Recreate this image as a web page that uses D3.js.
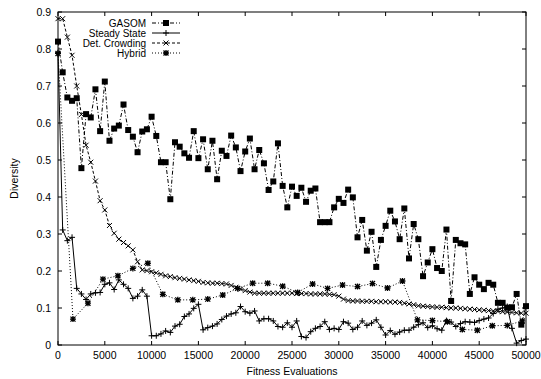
<!DOCTYPE html>
<html>
<head>
<meta charset="utf-8">
<script src="https://cdn.jsdelivr.net/npm/d3@7"></script>
<style>
  body { margin: 0; background: #fff; }
  svg { display: block; }
  text { font-family: "Liberation Sans", Arial, Helvetica, sans-serif; font-size: 10.5px; fill: #000; }
  .legend text { font-size: 10px; }
</style>
</head>
<body>
<svg id="chart" width="541" height="379"></svg>
<script>
// evaluation step between samples
const stepMain = 500;
const stepHybrid = 1600;

const gasom = [0.820, 0.737, 0.669, 0.660, 0.667, 0.478, 0.624, 0.615, 0.691, 0.578,
  0.712, 0.552, 0.585, 0.593, 0.650, 0.581, 0.563, 0.521, 0.577, 0.583,
  0.617, 0.565, 0.494, 0.494, 0.394, 0.548, 0.536, 0.518, 0.506, 0.578,
  0.505, 0.556, 0.475, 0.552, 0.448, 0.525, 0.511, 0.566, 0.534, 0.470,
  0.523, 0.558, 0.475, 0.527, 0.491, 0.419, 0.442, 0.545, 0.430, 0.372,
  0.428, 0.403, 0.425, 0.387, 0.417, 0.423, 0.332, 0.332, 0.332, 0.372,
  0.395, 0.384, 0.420, 0.399, 0.291, 0.338, 0.255, 0.306, 0.211, 0.284,
  0.322, 0.363, 0.334, 0.286, 0.369, 0.234, 0.327, 0.286, 0.186, 0.223,
  0.259, 0.208, 0.200, 0.312, 0.119, 0.284, 0.275, 0.272, 0.138, 0.183,
  0.163, 0.151, 0.168, 0.163, 0.114, 0.114, 0.101, 0.102, 0.138, 0.055,
  0.105];

const steadyState = [0.790, 0.311, 0.282, 0.291, 0.153, 0.138, 0.123, 0.138, 0.141, 0.142,
  0.164, 0.168, 0.150, 0.176, 0.164, 0.153, 0.126, 0.132, 0.149, 0.132,
  0.025, 0.025, 0.030, 0.038, 0.034, 0.051, 0.056, 0.077, 0.084, 0.099,
  0.110, 0.041, 0.047, 0.051, 0.057, 0.069, 0.078, 0.084, 0.087, 0.104,
  0.090, 0.086, 0.092, 0.065, 0.071, 0.071, 0.065, 0.050, 0.048, 0.060,
  0.048, 0.065, 0.023, 0.020, 0.036, 0.045, 0.050, 0.063, 0.042, 0.045,
  0.042, 0.063, 0.059, 0.042, 0.048, 0.065, 0.053, 0.059, 0.068, 0.048,
  0.027, 0.039, 0.029, 0.035, 0.040, 0.040, 0.048, 0.055, 0.060, 0.047,
  0.052, 0.044, 0.040, 0.066, 0.062, 0.050, 0.058, 0.063, 0.062, 0.061,
  0.066, 0.070, 0.073, 0.085, 0.097, 0.100, 0.104, 0.045, 0.005, 0.012,
  0.016];

const detCrowding = [0.882, 0.882, 0.832, 0.783, 0.700, 0.623, 0.540, 0.494, 0.443, 0.390,
  0.365, 0.323, 0.302, 0.286, 0.277, 0.268, 0.257, 0.225, 0.203, 0.201,
  0.198, 0.195, 0.191, 0.187, 0.185, 0.182, 0.180, 0.178, 0.176, 0.174,
  0.172, 0.169, 0.168, 0.167, 0.167, 0.166, 0.165, 0.161, 0.156, 0.151,
  0.147, 0.143, 0.140, 0.140, 0.140, 0.140, 0.140, 0.140, 0.140, 0.140,
  0.140, 0.139, 0.139, 0.139, 0.138, 0.138, 0.138, 0.138, 0.137, 0.136,
  0.132, 0.124, 0.120, 0.119, 0.119, 0.118, 0.118, 0.118, 0.117, 0.117,
  0.117, 0.116, 0.116, 0.115, 0.113, 0.111, 0.109, 0.106, 0.105, 0.104,
  0.103, 0.102, 0.102, 0.101, 0.100, 0.100, 0.099, 0.098, 0.097, 0.096,
  0.095, 0.094, 0.093, 0.092, 0.091, 0.090, 0.089, 0.088, 0.087, 0.086,
  0.086];

const hybrid = [0.788, 0.070, 0.113, 0.178, 0.187, 0.207, 0.221, 0.137, 0.122, 0.122,
  0.124, 0.135, 0.153, 0.167, 0.167, 0.159, 0.142, 0.165, 0.153, 0.162,
  0.158, 0.166, 0.154, 0.173, 0.068, 0.066, 0.063, 0.042, 0.040, 0.052,
  0.053, 0.065];

const xTicks = [0, 5000, 10000, 15000, 20000, 25000, 30000, 35000, 40000, 45000, 50000];
const yTicks = [0, 0.1, 0.2, 0.3, 0.4, 0.5, 0.6, 0.7, 0.8, 0.9];

const series = [
  { name: 'GASOM', values: gasom, step: stepMain, dash: '4,2,1,2', marker: 'square' },
  { name: 'Steady State', values: steadyState, step: stepMain, dash: null, marker: 'plus' },
  { name: 'Det. Crowding', values: detCrowding, step: stepMain, dash: '3,2', marker: 'cross' },
  { name: 'Hybrid', values: hybrid, step: stepHybrid, dash: '1,2', marker: 'star' }
];

const plotLeft = 58, plotRight = 526, plotTop = 12, plotBottom = 345;

const svg = d3.select('#chart');

const x = d3.scaleLinear().domain([0, 50000]).range([plotLeft, plotRight]);
const y = d3.scaleLinear().domain([0, 0.9]).range([plotBottom, plotTop]);

// marker shapes, drawn as paths centred on 0,0
function markerPath(type) {
  const s = 3, c = 2.5;
  if (type === 'plus') return `M${-s},0H${s}M0,${-s}V${s}`;
  if (type === 'cross') return `M${-c},${-c}L${c},${c}M${-c},${c}L${c},${-c}`;
  if (type === 'star') return `M${-s},0H${s}M0,${-s}V${s}M${-c},${-c}L${c},${c}M${-c},${c}L${c},${-c}`;
  return null;
}

function drawMarker(g, type, cx, cy) {
  if (type === 'square') {
    g.append('rect')
      .attr('x', cx - 3).attr('y', cy - 3)
      .attr('width', 6).attr('height', 6)
      .attr('fill', '#000');
  } else {
    g.append('path')
      .attr('transform', `translate(${cx},${cy})`)
      .attr('d', markerPath(type))
      .attr('fill', 'none')
      .attr('stroke', '#000')
      .attr('stroke-width', type === 'star' ? 1.3 : 1);
  }
}

// axes box
const axisG = svg.append('g');
axisG.append('rect')
  .attr('x', plotLeft).attr('y', plotTop)
  .attr('width', plotRight - plotLeft).attr('height', plotBottom - plotTop)
  .attr('fill', 'none').attr('stroke', '#000').attr('stroke-width', 1);

// ticks (inward, mirrored)
const tickLen = 4;
xTicks.forEach(t => {
  const px = x(t);
  axisG.append('line').attr('x1', px).attr('x2', px).attr('y1', plotBottom).attr('y2', plotBottom - tickLen).attr('stroke', '#000');
  axisG.append('line').attr('x1', px).attr('x2', px).attr('y1', plotTop).attr('y2', plotTop + tickLen).attr('stroke', '#000');
  axisG.append('text')
    .attr('x', px).attr('y', plotBottom + 14)
    .attr('text-anchor', 'middle')
    .text(t);
});
yTicks.forEach(t => {
  const py = y(t);
  axisG.append('line').attr('x1', plotLeft).attr('x2', plotLeft + tickLen).attr('y1', py).attr('y2', py).attr('stroke', '#000');
  axisG.append('line').attr('x1', plotRight).attr('x2', plotRight - tickLen).attr('y1', py).attr('y2', py).attr('stroke', '#000');
  axisG.append('text')
    .attr('x', plotLeft - 7).attr('y', py + 3.5)
    .attr('text-anchor', 'end')
    .text(t === 0 ? '0' : d3.format('.1f')(t));
});

// axis titles
svg.append('text')
  .attr('x', (plotLeft + plotRight) / 2).attr('y', 375)
  .attr('text-anchor', 'middle')
  .text('Fitness Evaluations');
svg.append('text')
  .attr('transform', `translate(18,${(plotTop + plotBottom) / 2}) rotate(-90)`)
  .attr('text-anchor', 'middle')
  .text('Diversity');

// series lines + points
const line = d3.line()
  .x(d => x(d[0]))
  .y(d => y(d[1]));

series.forEach(s => {
  const pts = s.values.map((v, i) => [i * s.step, v]);
  const g = svg.append('g');
  g.append('path')
    .attr('d', line(pts))
    .attr('fill', 'none')
    .attr('stroke', '#000')
    .attr('stroke-width', 1)
    .attr('stroke-dasharray', s.dash);
  pts.forEach(p => drawMarker(g, s.marker, x(p[0]), y(p[1])));
});

// legend
const legend = svg.append('g').attr('class', 'legend');
series.forEach((s, i) => {
  const ly = 23 + i * 10;
  legend.append('text')
    .attr('x', 146).attr('y', ly + 3.5)
    .attr('text-anchor', 'end')
    .text(s.name);
  legend.append('line')
    .attr('x1', 152).attr('x2', 180)
    .attr('y1', ly).attr('y2', ly)
    .attr('stroke', '#000')
    .attr('stroke-dasharray', s.dash);
  drawMarker(legend, s.marker, 166, ly);
});
</script>
</body>
</html>
